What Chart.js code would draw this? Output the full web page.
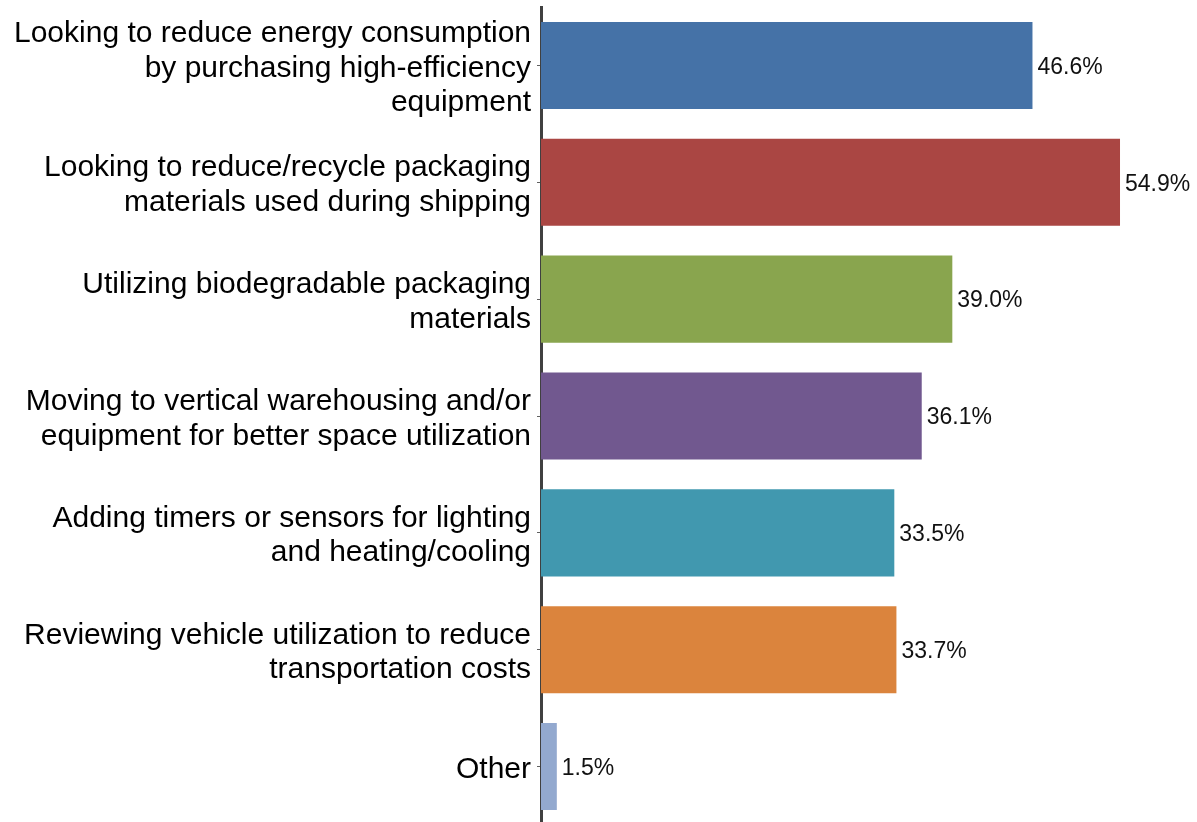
<!DOCTYPE html>
<html>
<head>
<meta charset="utf-8">
<script src="https://cdn.jsdelivr.net/npm/chart.js@4"></script>
<style>
  html, body { margin: 0; padding: 0; background: #fff; overflow: hidden; }
  #wrap { width: 1197px; height: 825px; }
</style>
</head>
<body>
<div id="wrap"><canvas id="chart"></canvas></div>
<script>
const categories = [
  ['Looking to reduce energy consumption', 'by purchasing high-efficiency', 'equipment'],
  ['Looking to reduce/recycle packaging', 'materials used during shipping'],
  ['Utilizing biodegradable packaging', 'materials'],
  ['Moving to vertical warehousing and/or', 'equipment for better space utilization'],
  ['Adding timers or sensors for lighting', 'and heating/cooling'],
  ['Reviewing vehicle utilization to reduce', 'transportation costs'],
  'Other'
];
const values = [46.6, 54.9, 39.0, 36.1, 33.5, 33.7, 1.5];
const barColors = ['#4572A7', '#AA4643', '#89A54E', '#71588F', '#4198AF', '#DB843D', '#93A9CF'];

const FONT = '"Liberation Sans", Arial, sans-serif';

const valueLabels = {
  id: 'valueLabels',
  afterDatasetsDraw(chart) {
    const ctx = chart.ctx;
    const meta = chart.getDatasetMeta(0);
    ctx.save();
    ctx.font = '23px ' + FONT;
    ctx.fillStyle = '#111';
    ctx.textAlign = 'left';
    ctx.textBaseline = 'middle';
    meta.data.forEach((bar, i) => {
      ctx.fillText(values[i].toFixed(1) + '%', bar.x + 5, bar.y + 2);
    });
    ctx.restore();
  }
};

new Chart(document.getElementById('chart'), {
  type: 'bar',
  data: {
    labels: categories,
    datasets: [{
      data: values,
      backgroundColor: barColors,
      borderWidth: 0,
      categoryPercentage: 1,
      barPercentage: 0.745
    }]
  },
  options: {
    indexAxis: 'y',
    responsive: true,
    maintainAspectRatio: false,
    animation: false,
    layout: { padding: { top: 7, bottom: 0, left: 0, right: 0 } },
    plugins: {
      legend: { display: false },
      tooltip: { enabled: false }
    },
    scales: {
      x: {
        display: false,
        min: 0,
        max: 62.2
      },
      y: {
        afterFit: (scale) => {
          scale.width = 541;
          scale.paddingTop = 0;
          scale.paddingBottom = 0;
        },
        grid: {
          offset: false,
          drawOnChartArea: false,
          drawTicks: true,
          tickLength: 4,
          color: '#606060',
          lineWidth: 1
        },
        border: { color: '#404040', width: 3 },
        ticks: {
          color: '#000',
          font: { family: FONT, size: 30, lineHeight: 1.15 },
          padding: 6,
          labelOffset: 3
        }
      }
    }
  },
  plugins: [valueLabels]
});
</script>
</body>
</html>
